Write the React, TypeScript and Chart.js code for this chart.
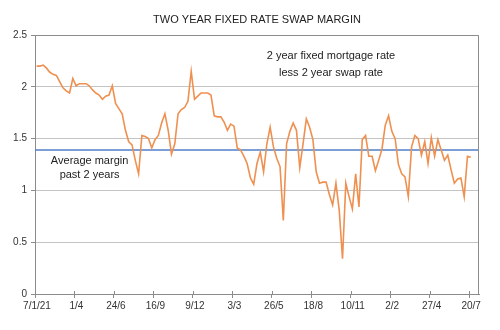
import React, { useEffect, useRef } from "react";
import { Chart, registerables } from "chart.js";

Chart.register(...registerables);

const title = "TWO YEAR FIXED RATE SWAP MARGIN";
const tickLabels = ["7/1/21", "1/4", "24/6", "16/9", "9/12", "3/3", "26/5", "18/8", "10/11", "2/2", "27/4", "20/7"];
const tickWeeks = [0, 12, 24, 36, 48, 60, 72, 84, 96, 108, 120, 132];
const totalWeeks = 135;
const averageMargin = 1.39;
const yTicks = [0, 0.5, 1, 1.5, 2, 2.5];

// weekly margin (%), 2yr fixed mortgage rate less 2yr swap rate
const margin = [
  2.2, 2.2, 2.21, 2.18, 2.14, 2.12, 2.11, 2.05, 1.99, 1.96,
  1.94, 2.08, 2.01, 2.03, 2.03, 2.03, 2.01, 1.97, 1.94, 1.92,
  1.88, 1.91, 1.92, 2.01, 1.84, 1.79, 1.74, 1.58, 1.47, 1.44,
  1.29, 1.16, 1.53, 1.52, 1.5, 1.41, 1.49, 1.53, 1.65, 1.74,
  1.58, 1.35, 1.45, 1.74, 1.78, 1.8, 1.86, 2.15, 1.88, 1.91,
  1.94, 1.94, 1.94, 1.92, 1.72, 1.71, 1.71, 1.66, 1.58, 1.64,
  1.62, 1.41, 1.39, 1.33, 1.26, 1.12, 1.06, 1.26, 1.37, 1.18,
  1.45, 1.61, 1.42, 1.31, 1.23, 0.71, 1.45, 1.57, 1.65, 1.58,
  1.22, 1.45, 1.69, 1.61, 1.49, 1.18, 1.07, 1.08, 1.08, 0.96,
  0.86, 1.07, 0.81, 0.34, 1.07, 0.94, 0.82, 1.16, 0.84, 1.49,
  1.53, 1.33, 1.33, 1.19, 1.29, 1.4, 1.63, 1.72, 1.57, 1.5,
  1.25, 1.16, 1.13, 0.94, 1.42, 1.53, 1.5, 1.34, 1.47, 1.26,
  1.51, 1.33, 1.49, 1.39, 1.29, 1.34, 1.2, 1.07, 1.11, 1.12,
  0.94, 1.33, 1.32,
];

const noteTop = ["2 year fixed mortgage rate", "less 2 year swap rate"];
const noteAvg = ["Average margin", "past 2 years"];

const FONT = "'Liberation Sans', Arial, sans-serif";

const decorPlugin = {
  id: "decor",
  afterDraw(chart: any) {
    const { ctx, chartArea, scales } = chart;
    const xs = scales.x;
    const ys = scales.y;
    ctx.save();
    // frame
    ctx.strokeStyle = "#8c8c8c";
    ctx.lineWidth = 1;
    ctx.beginPath();
    ctx.moveTo(chartArea.left + 0.5, chartArea.top + 0.5);
    ctx.lineTo(chartArea.right - 0.5, chartArea.top + 0.5);
    ctx.lineTo(chartArea.right - 0.5, chartArea.bottom);
    ctx.stroke();
    // upward tick marks on x axis
    ctx.beginPath();
    tickWeeks.forEach((w) => {
      const px = Math.round(xs.getPixelForValue(w)) + 0.5;
      ctx.moveTo(px, chartArea.bottom - 3);
      ctx.lineTo(px, chartArea.bottom);
    });
    ctx.stroke();
    // title
    ctx.fillStyle = "#222";
    ctx.textAlign = "center";
    ctx.textBaseline = "middle";
    ctx.font = `11px ${FONT}`;
    ctx.fillText(title, 257, 20);
    // annotations
    ctx.font = `11px ${FONT}`;
    const tx = xs.getPixelForValue(90);
    ctx.fillText(noteTop[0], tx, ys.getPixelForValue(2.3));
    ctx.fillText(noteTop[1], tx, ys.getPixelForValue(2.135));
    const ax = xs.getPixelForValue(16.6);
    ctx.fillText(noteAvg[0], ax, ys.getPixelForValue(1.28));
    ctx.fillText(noteAvg[1], ax, ys.getPixelForValue(1.15));
    ctx.restore();
  },
};

export default function App() {
  const ref = useRef<HTMLCanvasElement>(null);
  useEffect(() => {
    if (!ref.current) return;
    const chart = new Chart(ref.current, {
      type: "line",
      data: {
        datasets: [
          {
            data: margin.map((v, i) => ({ x: i + 0.5, y: v })),
            borderColor: "#EF9050",
            borderWidth: 1.6,
            pointRadius: 0,
            tension: 0,
          },
          {
            data: [
              { x: 0, y: averageMargin },
              { x: totalWeeks, y: averageMargin },
            ],
            borderColor: "#4F7FC8",
            borderWidth: 1.5,
            pointRadius: 0,
          },
        ],
      },
      options: {
        animation: false,
        responsive: true,
        maintainAspectRatio: false,
        layout: { padding: { top: 35, right: 21, left: 0, bottom: 0 } },
        plugins: { legend: { display: false }, tooltip: { enabled: false }, title: { display: false } },
        scales: {
          x: {
            type: "linear",
            min: 0,
            max: totalWeeks,
            afterBuildTicks: (s: any) => {
              s.ticks = tickWeeks.map((w) => ({ value: w }));
            },
            afterFit: (s: any) => {
              s.height = 36;
            },
            ticks: {
              autoSkip: false,
              maxRotation: 0,
              minRotation: 0,
              padding: 2,
              labelOffset: 2,
              color: "#333",
              font: { family: FONT, size: 10 },
              callback: (v: any) => {
                const idx = tickWeeks.indexOf(Number(v));
                return idx >= 0 ? tickLabels[idx] : "";
              },
            },
            grid: { drawOnChartArea: false, tickLength: 4, color: "#8c8c8c", tickColor: "#8c8c8c" },
            border: { color: "#8c8c8c" },
          },
          y: {
            min: 0,
            max: 2.5,
            afterBuildTicks: (s: any) => {
              s.ticks = yTicks.map((v) => ({ value: v }));
            },
            afterFit: (s: any) => {
              s.width = 35;
            },
            ticks: {
              padding: 4,
              color: "#333",
              font: { family: FONT, size: 10 },
              callback: (v: any) => String(v),
            },
            grid: { color: "#c4c4c4", tickLength: 4, tickColor: "#8c8c8c" },
            border: { color: "#8c8c8c" },
          },
        },
      },
      plugins: [decorPlugin],
    });
    return () => chart.destroy();
  }, []);
  return (
    <div style={{ position: "fixed", left: 0, top: 0, width: 500, height: 330, background: "#fff" }}>
      <canvas ref={ref} />
    </div>
  );
}
